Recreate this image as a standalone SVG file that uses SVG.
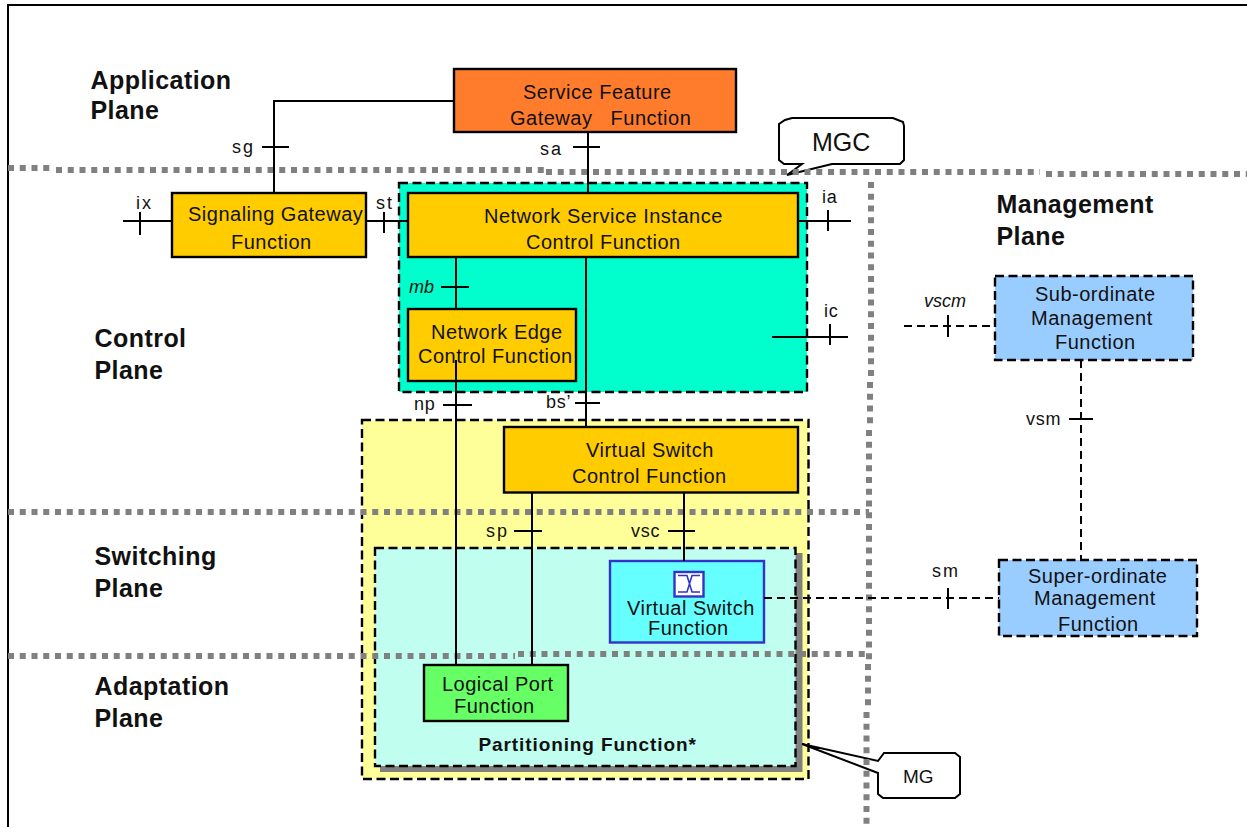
<svg xmlns="http://www.w3.org/2000/svg" width="1247" height="827" viewBox="0 0 1247 827">
<style>
text{font-family:"Liberation Sans",Arial,sans-serif;fill:#111}
.t{font-size:20px;letter-spacing:.5px}
.l{font-size:18px;letter-spacing:.7px}
.ls{font-size:18px;letter-spacing:2px}
.i{font-size:18px;font-style:italic}
.h{font-size:25px;font-weight:bold;letter-spacing:.45px}
.b{stroke:#000;stroke-width:2.4}
.d{stroke:#000;stroke-width:2.4;stroke-dasharray:9 4.5}
.c{fill:none;stroke:#000;stroke-width:2}
.cd{fill:none;stroke:#000;stroke-width:2;stroke-dasharray:8 5}
.dot{fill:none;stroke:#808080;stroke-width:6;stroke-dasharray:6 5.75}
.o{fill:#fc0}
.call{fill:#fff;stroke:#000;stroke-width:2}
</style>
<rect id="frame" x="8" y="5" width="1260" height="840" fill="#fff" stroke="#000" stroke-width="2"/>
<g id="panels">
<rect id="mgc-panel" x="399" y="183" width="408" height="209" fill="#0fc" class="d"/>
<rect id="mg-panel" x="362" y="420" width="446.500" height="359" fill="#ff9" class="d"/>
<path id="partition-shadow" d="M795 553h7.500v219H380v-6h415z" fill="#808080"/>
<rect id="partition-panel" x="375" y="548" width="420.500" height="218" fill="#c0fff0" class="d"/>
</g>
<g id="callouts">
<path id="mgc-callout" class="call" d="M787 175L802 164H784L779 160V124L785 120L792 118H893L903 122L904 126V160L900 164H832Z"/>
<path id="mg-callout" class="call" d="M802 744L878 761L884 753H955L960 757V794L955 798H883L878 794V773Z"/>
</g>
<g id="plane-lines">
<path class="dot" d="M8 168H50"/><path class="dot" d="M56 170H545"/><path class="dot" d="M546 172H1040"/><path class="dot" d="M1046 174H1247"/>
<path class="dot" d="M8 512H869"/>
<path class="dot" d="M8 656H515"/><path class="dot" d="M518 654H869"/>
<path class="dot" d="M871 182V380"/><path class="dot" d="M870 382V426"/><path class="dot" d="M869 430V660"/><path class="dot" d="M868 664V707"/><path class="dot" d="M866.500 712V827"/>
</g>
<g id="sf"><rect class="b" x="454" y="69" width="282" height="63" fill="#ff7c2c"/>
<text class="t" x="523" y="99">Service Feature</text><text class="t" x="510" y="125" xml:space="preserve">Gateway   Function</text></g>
<g id="sgf"><rect class="b o" x="172" y="193" width="194" height="64"/>
<text class="t" x="188" y="221">Signaling Gateway</text><text class="t" x="231" y="249">Function</text></g>
<g id="nsi"><rect class="b o" x="408" y="193" width="390" height="64"/>
<text class="t" x="484" y="223">Network Service Instance</text><text class="t" x="526" y="249">Control Function</text></g>
<g id="ne"><rect class="b o" x="408" y="309" width="168" height="72"/>
<text class="t" x="431" y="339">Network Edge</text><text class="t" x="418" y="363">Control Function</text></g>
<g id="vsc"><rect class="b o" x="504" y="427" width="294" height="65.500"/>
<text class="t" x="586" y="457">Virtual Switch</text><text class="t" x="572" y="483">Control Function</text></g>
<g id="vs"><rect x="610" y="561" width="154" height="81.500" fill="#6ff" stroke="#33c" stroke-width="2.400"/>
<rect x="674.500" y="572" width="29" height="24.500" fill="#fff" stroke="#33c" stroke-width="2.400"/>
<path d="M678 575.500h9l5 16.500h8M700 575.500h-8l-5 16.500h-9" fill="none" stroke="#33c" stroke-width="1.600"/>
<text class="t" x="627" y="615">Virtual Switch</text><text class="t" x="648" y="635">Function</text></g>
<g id="lp"><rect class="b" x="424" y="665" width="144" height="56" fill="#6f6"/>
<text class="t" x="442" y="691">Logical Port</text><text class="t" x="454" y="713">Function</text></g>
<text x="478.500" y="751" font-size="19" font-weight="bold" letter-spacing=".9" id="pf">Partitioning Function*</text>
<g id="sub"><rect class="d" x="995" y="276" width="198" height="84" fill="#9cf"/>
<text class="t" x="1035" y="301">Sub-ordinate</text><text class="t" x="1031" y="325">Management</text><text class="t" x="1055" y="349">Function</text></g>
<g id="super"><rect class="d" x="999" y="560" width="198" height="76" fill="#9cf"/>
<text class="t" x="1028" y="583">Super-ordinate</text><text class="t" x="1034" y="605">Management</text><text class="t" x="1058" y="631">Function</text></g>
<g id="connectors">
<path class="c" d="M454 101H274V193M262 147H289"/>
<path class="c" d="M588 132V193M573 147H600"/>
<path class="c" d="M123 221H172M140 212V235"/>
<path class="c" d="M366 221H408M384 212V233"/>
<path class="c" d="M798 221H851M828 210V231"/>
<path class="c" d="M772 337H848M830 324V345"/>
<path class="c" d="M456 257V309M441 287H469"/>
<path class="c" d="M586 257V427M575 403H600"/>
<path class="c" d="M456 360V665M443 405H472"/>
<path class="c" d="M532 492.500V665M514 531H542"/>
<path class="c" d="M684 492.500V561M668 531H695"/>
<path class="cd" d="M904 326H995"/><path class="c" d="M948 315V337"/>
<path class="cd" d="M1081 360V560"/><path class="c" d="M1069 419H1093"/>
<path class="cd" d="M764 598H999"/><path class="c" d="M948 588V609"/>
</g>
<g id="labels">
<text class="h" x="90.500" y="89">Application</text><text class="h" x="90.500" y="119">Plane</text>
<text class="h" x="996.500" y="213">Management</text><text class="h" x="996.500" y="245">Plane</text>
<text class="h" x="94.500" y="347">Control</text><text class="h" x="94.500" y="379">Plane</text>
<text class="h" x="94.500" y="565">Switching</text><text class="h" x="94.500" y="597">Plane</text>
<text class="h" x="94.500" y="695">Adaptation</text><text class="h" x="94.500" y="727">Plane</text>
<text x="812" y="151" font-size="25">MGC</text><text x="903" y="783" font-size="19">MG</text>
<text class="ls" x="232" y="153">sg</text><text class="ls" x="136" y="209">ix</text><text class="ls" x="376" y="209">st</text><text class="ls" x="540" y="155">sa</text>
<text class="l" x="822" y="203">ia</text><text class="l" x="824" y="317">ic</text><text class="i" x="409" y="293">mb</text>
<text class="l" x="414" y="410">np</text><text class="l" x="546" y="408">bs’</text><text class="ls" x="486" y="537">sp</text><text class="l" x="631" y="537">vsc</text>
<text class="l" x="1026" y="425">vsm</text><text class="ls" x="932" y="577">sm</text><text class="i" x="924" y="307">vscm</text>
</g>
</svg>
